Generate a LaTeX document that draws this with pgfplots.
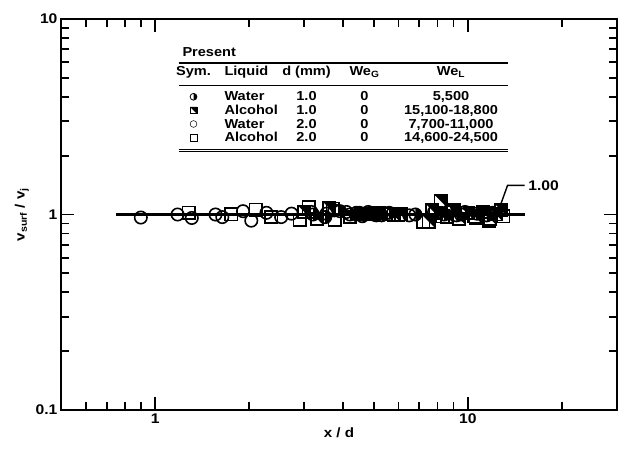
\documentclass[border=0pt]{standalone}
\usepackage{fontspec}
\setmainfont{Liberation Sans}[FakeStretch=1.12]
\usepackage{array}
\usepackage{pgfplots}
\pgfplotsset{compat=1.18}

\pgfdeclareplotmark{halfcirc}{%
  \pgfpathmoveto{\pgfqpoint{0pt}{\pgfplotmarksize}}%
  \pgfpatharc{90}{-90}{\pgfplotmarksize}%
  \pgfpathclose
  \pgfusepathqfill
  \pgfpathcircle{\pgfpointorigin}{\pgfplotmarksize}%
  \pgfusepathqstroke
}
\pgfdeclareplotmark{halfsq}{%
  \pgfpathmoveto{\pgfqpoint{-\pgfplotmarksize}{\pgfplotmarksize}}%
  \pgfpathlineto{\pgfqpoint{\pgfplotmarksize}{\pgfplotmarksize}}%
  \pgfpathlineto{\pgfqpoint{\pgfplotmarksize}{-\pgfplotmarksize}}%
  \pgfpathclose
  \pgfusepathqfill
  \pgfpathrectangle{\pgfqpoint{-\pgfplotmarksize}{-\pgfplotmarksize}}{\pgfqpoint{2\pgfplotmarksize}{2\pgfplotmarksize}}%
  \pgfusepathqstroke
}
\newcommand\sym[2][0.8pt]{\tikz[baseline=-0.6ex]{\pgfsetlinewidth{#1}\pgfsetplotmarksize{3.4pt}\pgfuseplotmark{#2}}}

\begin{document}
\begin{tikzpicture}
\begin{axis}[
  scale only axis, width=556pt, height=391pt,
  xmode=log, ymode=log,
  xmin=0.5, xmax=30, ymin=0.1, ymax=10,
  xtick={1,10}, xticklabels={1,10},
  ytick={0.1,1,10}, yticklabels={0.1,1,10},
  minor xtick={0.6,0.7,0.8,0.9,2,3,4,5,6,7,8,9,20},
  minor ytick={0.2,0.3,0.4,0.5,0.6,0.7,0.8,0.9,2,3,4,5,6,7,8,9},
  tick align=inside,
  major tick length=13pt, minor tick length=8pt,
  axis line style={line width=2.4pt},
  every tick/.style={line width=1.8pt, black},
  tick label style={font=\fontsize{14}{16}\selectfont\bfseries},
  /pgf/number format/assume math mode=true,
  xlabel={x / d}, ylabel={v\textsubscript{surf} / v\textsubscript{j}},
  label style={font=\fontsize{13.5}{15}\selectfont\bfseries},
  xlabel style={yshift=3pt},
]
\coordinate (BL) at (rel axis cs:0,0);
\coordinate (TR) at (rel axis cs:1,1);
\addplot[line width=2.2pt, mark=none] coordinates {(0.75,1) (15.2,1)};
\addplot[line width=1.4pt, mark=none] coordinates {(12.7,1.11) (13.4,1.41) (15.2,1.41)}
  node[pos=1, anchor=west, font=\fontsize{14}{16}\selectfont\bfseries, inner sep=3pt] {1.00};
% Water 2.0 (open circles)
\addplot[only marks, mark=o, mark size=6.2pt, line width=1.6pt, black] coordinates {
(0.90,0.965) (1.18,1.00) (1.31,0.96) (1.56,1.00) (1.64,0.97) (1.91,1.04) (2.03,0.93)
(2.27,1.02) (2.53,0.97) (2.73,1.01) (3.16,1.03) (3.53,1.01) (3.74,1.05) (4.09,1.03)
(4.5,1.02) (5.0,1.00) (6.5,0.99) (8.6,1.03) (9.5,1.00)};
% Alcohol 2.0 (open squares)
\addplot[only marks, mark=square, mark size=6.2pt, line width=1.6pt, black] coordinates {
(1.28,1.02) (1.75,1.00) (2.10,1.06) (2.35,0.97) (2.90,0.94) (3.10,1.09) (3.70,1.07)
(3.75,0.94) (4.6,1.01) (5.6,1.00) (6.0,0.99) (7.2,0.92) (8.3,0.98) (10.6,0.96)
(11.7,0.93) (13.0,0.98)};
% Alcohol 1.0 (half-filled squares)
\addplot[only marks, mark=halfsq, mark size=6.2pt, line width=1.6pt, black] coordinates {
(3.0,1.03) (3.3,0.95) (3.6,1.08) (4.2,0.97) (4.8,1.00) (5.2,1.02) (5.8,0.99) (6.1,1.00)
(7.5,0.92) (7.7,1.05) (7.9,1.02) (8.2,1.17) (8.6,0.97) (9.0,1.05) (9.4,0.95) (10.0,1.02)
(10.5,0.98) (11.2,1.03) (11.8,0.95) (12.3,1.00) (12.8,1.05)};
% Water 1.0 (half-filled circles)
\addplot[only marks, mark=halfcirc, mark size=6.2pt, line width=1.6pt, black] coordinates {
(3.2,1.00) (3.5,0.97) (3.9,1.04) (4.2,1.00) (4.4,1.02) (4.6,0.98) (4.8,1.03) (4.9,1.01)
(5.1,0.99) (5.3,0.99) (5.6,1.02) (6.8,1.00) (7.8,1.03) (8.4,1.00) (8.8,1.04) (9.2,0.99)
(9.8,1.03) (10.7,1.01) (11.5,0.99) (12.0,1.02)};
\node[anchor=north west, inner sep=0pt, font=\fontsize{13}{13.6}\selectfont\bfseries]
  at (rel axis cs:0.211,0.930) {%
  \setlength{\tabcolsep}{0pt}%
  \begin{tabular}{w{c}{30pt}@{\hspace{16pt}}w{l}{54pt}w{c}{56pt}w{c}{60pt}w{c}{113pt}}
  \multicolumn{5}{@{\hspace{4pt}}l}{Present}\\
  \noalign{\vskip 2pt\hrule height 2pt\vskip 2pt}
  Sym. & Liquid & d (mm) & We\textsubscript{G} & We\textsubscript{L}\\
  \noalign{\vskip 5pt\hrule height 1.6pt\vskip 5pt}
  \sym{halfcirc} & Water & 1.0 & 0 & 5,500\\
  \sym{halfsq} & Alcohol & 1.0 & 0 & 15,100-18,800\\
  \sym[0.5pt]{o} & Water & 2.0 & 0 & 7,700-11,000\\
  \sym[0.6pt]{square} & Alcohol & 2.0 & 0 & 14,600-24,500\\
  \noalign{\vskip 3pt\hrule height 1.2pt\vskip 0.8pt\hrule height 1.2pt}
  \end{tabular}};
\end{axis}
\pgfresetboundingbox
\path ([shift={(-61pt,-41pt)}]BL) rectangle ([shift={(8pt,19pt)}]TR);
\end{tikzpicture}
\end{document}
